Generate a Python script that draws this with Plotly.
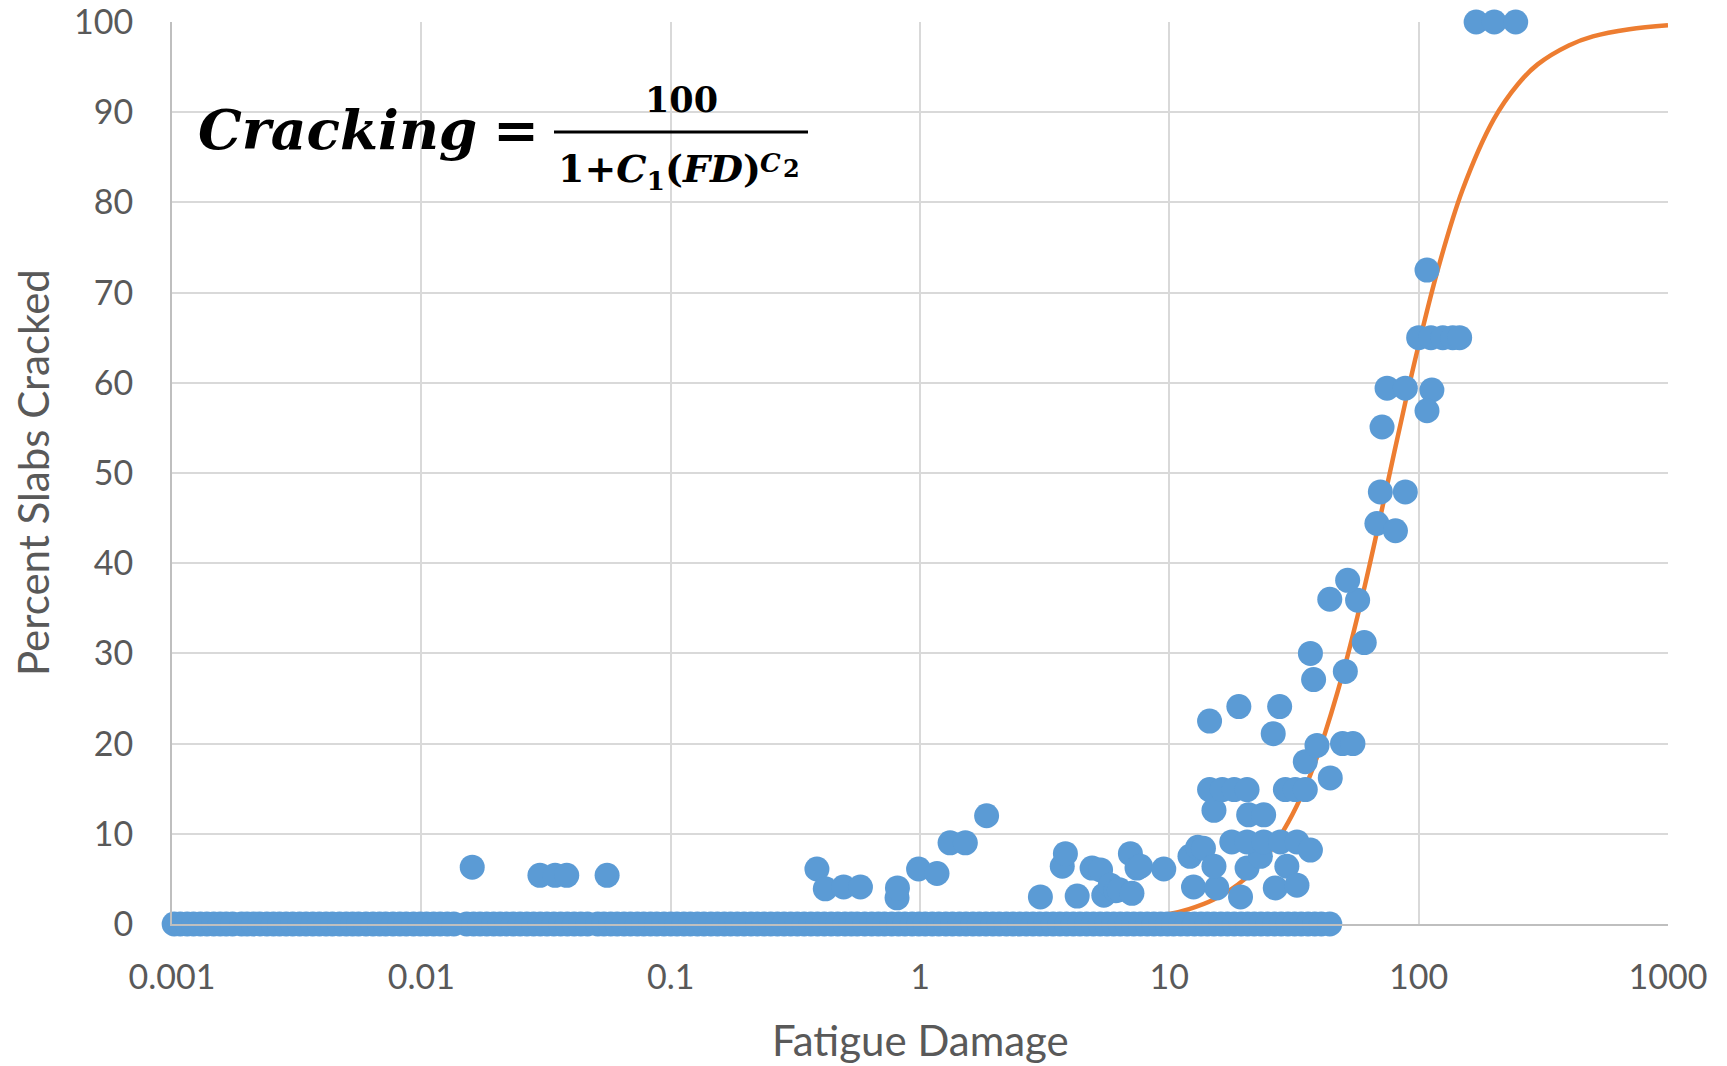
import plotly.graph_objects as go

# ---------------- data ----------------
tick_vals = [0.001, 0.01, 0.1, 1, 10, 100, 1000]
tick_text = ["0.001", "0.01", "0.1", "1", "10", "100", "1000"]
y_ticks = [0, 10, 20, 30, 40, 50, 60, 70, 80, 90, 100]

# sections with 0 % slabs cracked (dense band along the x axis)
zero_fd = [
    0.00102, 0.00108, 0.00115, 0.00122, 0.0013, 0.00138, 0.00147, 0.00156, 0.00165,
    0.00175, 0.0019, 0.002, 0.00212, 0.00225, 0.0024, 0.00255, 0.0027, 0.00287,
    0.00305, 0.00325, 0.00345, 0.00367, 0.0039, 0.00415, 0.0044, 0.0047, 0.005,
    0.0053, 0.0056, 0.006, 0.0064, 0.0068, 0.0072, 0.0077, 0.0082, 0.0087, 0.0093,
    0.0099, 0.0105, 0.0112, 0.0119, 0.0127, 0.0135, 0.0152, 0.0162, 0.0172, 0.0183,
    0.0195, 0.0207, 0.022, 0.0234, 0.0249, 0.0265, 0.0282, 0.03, 0.0319, 0.034,
    0.0362, 0.0385, 0.041, 0.0436, 0.0464, 0.051, 0.054, 0.0575, 0.061, 0.065,
    0.069, 0.0735, 0.078, 0.083, 0.088, 0.094, 0.1, 0.106, 0.113, 0.12, 0.128,
    0.136, 0.145, 0.154, 0.164, 0.174, 0.185, 0.197, 0.21, 0.223, 0.237, 0.252,
    0.268, 0.285, 0.303, 0.322, 0.343, 0.365, 0.388, 0.413, 0.44, 0.468, 0.5,
    0.53, 0.56, 0.6, 0.64, 0.68, 0.72, 0.77, 0.82, 0.87, 0.93, 0.99, 1.05, 1.12,
    1.19, 1.27, 1.35, 1.44, 1.53, 1.63, 1.73, 1.84, 1.96, 2.08, 2.22, 2.36, 2.51,
    2.67, 2.84, 3.02, 3.21, 3.42, 3.64, 3.87, 4.12, 4.38, 4.66, 4.96, 5.28, 5.62,
    5.98, 6.36, 6.77, 7.2, 7.66, 8.15, 8.67, 9.23, 9.82, 10.4, 11.1, 11.8, 12.6,
    13.4, 14.2, 15.1, 16.1, 17.1, 18.2, 19.4, 20.6, 21.9, 23.3, 24.8, 26.4, 28.1,
    29.9, 31.8, 33.8, 36, 38.3, 40.7, 44.0,
]
zero_pct = [0] * len(zero_fd)

# sections with some cracking
crack_fd = [
    0.016, 0.0299, 0.0344, 0.0383, 0.0556, 0.386, 0.417, 0.494, 0.577, 0.809,
    0.812, 0.987, 1.17, 1.32, 1.52, 1.85, 3.04, 3.72, 3.83, 4.27,
    4.9, 5.3, 5.46, 5.8, 6.1, 6.3, 6.98, 7.42, 7.08, 7.66,
    9.5, 12.1, 13.0, 13.7, 12.5, 15.5, 15.1, 19.3, 20.5, 23.2,
    17.8, 20.5, 23.9, 27.9, 32.5, 36.8, 29.6, 26.6, 32.5, 15.1,
    20.8, 23.9, 14.5, 16.3, 18.2, 20.5, 29.2, 32.0, 35.1, 44.2,
    35.1, 39.1, 49.5, 54.5, 26.1, 14.5, 19.0, 27.7, 37.9, 50.8,
    36.8, 60.5, 44.0, 56.9, 51.9, 68.0, 80.7, 70.2, 88.4, 71.3,
    74.7, 88.4, 113, 108, 100, 112, 125, 137, 146, 108,
    170, 201, 245,
]
crack_pct = [
    6.3, 5.4, 5.4, 5.4, 5.4, 6.1, 3.9, 4.1, 4.1, 2.9,
    4.0, 6.1, 5.6, 9.0, 9.0, 12.0, 3.0, 6.4, 7.8, 3.1,
    6.2, 6.0, 3.2, 4.3, 3.7, 3.8, 7.8, 6.2, 3.4, 6.4,
    6.1, 7.5, 8.5, 8.4, 4.1, 4.0, 6.4, 3.0, 6.2, 7.5,
    9.1, 9.1, 9.1, 9.1, 9.1, 8.2, 6.4, 4.0, 4.3, 12.6,
    12.1, 12.1, 14.9, 14.9, 14.9, 14.9, 14.9, 14.9, 14.9, 16.2,
    18.0, 19.8, 20.0, 20.0, 21.1, 22.5, 24.1, 24.1, 27.1, 28.0,
    30.0, 31.2, 36.0, 35.9, 38.1, 44.4, 43.6, 47.9, 47.9, 55.1,
    59.4, 59.4, 59.2, 56.9, 65, 65, 65, 65, 65, 72.5,
    100, 100, 100,
]

# fitted transfer-function curve
curve_fd = [5, 7, 10, 12, 15, 20, 25, 30, 35, 40, 50, 60, 70, 80, 90, 100,
            120, 150, 200, 250, 300, 400, 500, 700, 1000]
curve_pct = [0.25, 0.51, 1.12, 1.66, 2.69, 4.95, 7.84, 11.3, 15.1, 19.3, 28.1,
             36.8, 45.0, 52.4, 58.8, 64.2, 72.8, 81.4, 89.2, 93.1, 95.3, 97.4,
             98.4, 99.2, 99.65]

# ---------------- styling ----------------
BLUE = "#5B9BD5"
ORANGE = "#ED7D31"
GRID = "#D9D9D9"
AXIS = "#BFBFBF"
TXT = "#595959"
SANS = "Lato, 'Open Sans', 'Noto Sans', sans-serif"
SERIF = "'DejaVu Serif', 'Liberation Serif', serif"

fig = go.Figure()
fig.add_trace(go.Scatter(
    x=curve_fd, y=curve_pct, mode="lines",
    line=dict(color=ORANGE, width=4.5, shape="spline"),
    showlegend=False, hoverinfo="skip",
))
fig.add_trace(go.Scatter(
    x=zero_fd + crack_fd, y=zero_pct + crack_pct, mode="markers",
    marker=dict(color=BLUE, size=25, line=dict(width=0)),
    cliponaxis=False, showlegend=False,
))

W, H = 1727, 1066
L, R, T, B = 172, 59, 22, 142


def px(xp):
    return (xp - L) / (W - L - R)


def py(yp):
    return (H - B - yp) / (H - T - B)


def eq_text(text, x, y, size, anchor="center"):
    return dict(text=text, xref="paper", yref="paper", x=px(x), y=py(y),
                xanchor=anchor, yanchor="middle", showarrow=False,
                font=dict(family=SERIF, size=size, color="black"))


fig.update_layout(
    width=W, height=H,
    margin=dict(l=L, r=R, t=T, b=B, pad=0, autoexpand=False),
    paper_bgcolor="white", plot_bgcolor="white",
    showlegend=False,
    xaxis=dict(
        type="log", range=[-3, 3], tickvals=tick_vals, ticktext=tick_text,
        showgrid=True, gridcolor=GRID, gridwidth=2,
        showline=True, linecolor=AXIS, linewidth=2, ticks="",
        tickfont=dict(family=SANS, size=34, color=TXT),
        ticklabelstandoff=22, zeroline=False, automargin=False,
        ticklabeloverflow="allow",
    ),
    yaxis=dict(
        range=[0, 100], tickvals=y_ticks,
        showgrid=True, gridcolor=GRID, gridwidth=2,
        showline=True, linecolor=AXIS, linewidth=2, ticks="",
        tickfont=dict(family=SANS, size=34, color=TXT),
        ticklabelstandoff=30, zeroline=False, automargin=False,
        ticklabeloverflow="allow",
    ),
    shapes=[
        # white equation box hiding the gridlines
        dict(type="rect", xref="paper", yref="paper",
             x0=px(180), x1=px(848), y0=py(248), y1=py(34),
             fillcolor="white", line=dict(width=0), layer="between"),
        # fraction bar
        dict(type="line", xref="paper", yref="paper",
             x0=px(554), x1=px(808), y0=py(132), y1=py(132),
             line=dict(color="black", width=3), layer="above"),
    ],
    annotations=[
        dict(text="Fatigue Damage", xref="paper", yref="paper",
             x=0.5, y=py(1040), xanchor="center", yanchor="middle",
             showarrow=False, font=dict(family=SANS, size=42, color=TXT)),
        dict(text="Percent Slabs Cracked", xref="paper", yref="paper",
             x=px(33), y=py(473), xanchor="center", yanchor="middle",
             textangle=-90, showarrow=False,
             font=dict(family=SANS, size=42, color=TXT)),
        eq_text("<b><i>Cracking</i></b>", 196, 129, 55, anchor="left"),
        eq_text("<b>=</b>", 516, 129, 55),
        eq_text("<b>100</b>", 681, 100, 35),
        eq_text("<b>1+<i>C</i><sub>1</sub>(<i>FD</i>)</b>", 556, 171, 38,
                anchor="left"),
        eq_text("<b><i>C</i></b>", 758, 163, 26, anchor="left"),
        eq_text("<b>2</b>", 781, 168, 24, anchor="left"),
    ],
)

fig.write_html("out.html")
